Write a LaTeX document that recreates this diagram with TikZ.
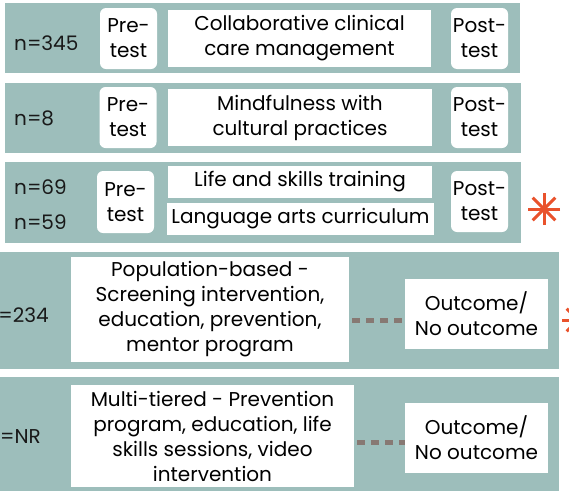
\documentclass[tikz,border=0pt]{standalone}
\usepackage{fontspec}
\setmainfont{Poppins}
\definecolor{rowteal}{HTML}{9DBEBB}
\definecolor{dotgrey}{HTML}{877973}
\definecolor{starred}{HTML}{E9522C}
\tikzset{
  band/.style={fill=rowteal, inner sep=0pt},
  card/.style={fill=white, rounded corners=6pt, align=center, inner sep=0pt, minimum width=57pt, minimum height=61pt},
  panel/.style={fill=white, align=center, inner sep=0pt},
  count/.style={inner sep=0pt, text=black!90},
  link/.style={dotgrey, line width=5pt, dash pattern=on 8pt off 6pt},
  burst/.style={starred, line width=3pt}
}

\begin{document}
\begin{tikzpicture}[x=1pt, y=-1pt, font=\fontsize{20}{25}\selectfont]
\clip (0,0) rectangle (569,493);
% rows
\node[band, minimum width=515pt, minimum height=70pt] (row1) at (262.5,38) {};
\node[band, minimum width=516pt, minimum height=70pt] (row2) at (263,118) {};
\node[band, minimum width=516pt, minimum height=81pt] (row3) at (263,202.5) {};
\node[band, minimum width=589pt, minimum height=117pt] (row4) at (264.5,310.5) {};
\node[band, minimum width=589pt, minimum height=114pt] (row5) at (264.5,434) {};
% sample sizes
\node[count, anchor=west] (n1) at (14,43) {n=345};
\node[count, anchor=west] (n2) at (14,118) {n=8};
\node[count, anchor=west] (n3a) at (14,187) {n=69};
\node[count, anchor=west] (n3b) at (14,222) {n=59};
\node[count, anchor=east] (n4) at (49,315) {n=234};
\node[count, anchor=east] (n5) at (41,437) {n=NR};
% row 1
\node[card] (pre1) at (128.5,38.5) {Pre-\\test};
\node[panel, minimum width=263pt, minimum height=57pt] (int1) at (299.5,38.5) {Collaborative clinical\\care management};
\node[card] (post1) at (479.5,38.5) {Post-\\test};
% row 2
\node[card] (pre2) at (128,117.5) {Pre-\\test};
\node[panel, minimum width=264pt, minimum height=57pt] (int2) at (300,117.5) {Mindfulness with\\cultural practices};
\node[card] (post2) at (479.5,117.5) {Post-\\test};
% row 3
\node[card, minimum height=62pt] (pre3) at (125.5,202) {Pre-\\test};
\node[panel, minimum width=264pt, minimum height=32pt] (int3a) at (300,182) {Life and skills training};
\node[panel, minimum width=267pt, minimum height=32pt] (int3b) at (300.5,219) {Language arts curriculum};
\node[card] (post3) at (479.5,201.5) {Post-\\test};
\coordinate (star1) at (544,209);
\foreach \a in {0,45,90,135}
  \draw[burst] ([shift={(\a:16)}]star1) -- ([shift={(\a+180:16)}]star1);
% row 4
\node[panel, minimum width=278pt, minimum height=105pt] (int4) at (210,309.5) {Population-based -\\Screening intervention,\\education, prevention,\\mentor program};
\node[panel, minimum width=143pt, minimum height=70pt] (out4) at (476.5,314) {Outcome/\\No outcome};
\draw[link] ([xshift=3pt, yshift=-10.5pt]int4.east) -- ([yshift=-6pt]out4.west);
\coordinate (star2) at (578,320);
\foreach \a in {0,45,90,135}
  \draw[burst] ([shift={(\a:16)}]star2) -- ([shift={(\a+180:16)}]star2);
% row 5
\node[panel, minimum width=283pt, minimum height=102pt] (int5) at (212.5,436) {Multi-tiered - Prevention\\program, education, life\\skills sessions, video\\intervention};
\node[panel, minimum width=143pt, minimum height=70pt] (out5) at (476.5,438) {Outcome/\\No outcome};
\draw[link] ([xshift=3pt, yshift=-6pt]int5.east) -- ([yshift=-4pt]out5.west);
\end{tikzpicture}
\end{document}
